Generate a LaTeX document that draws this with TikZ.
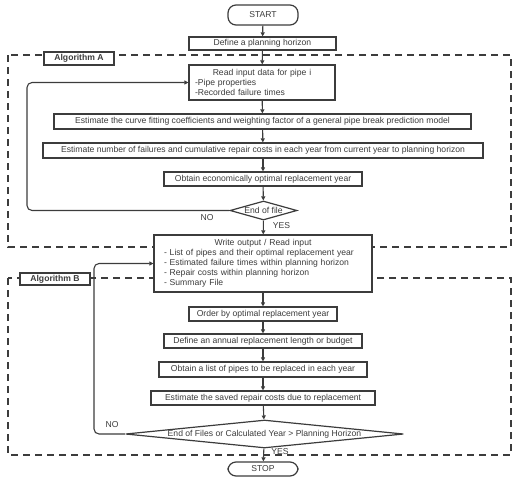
\documentclass[tikz,border=0pt]{standalone}
\usepackage{fontspec}
\setmainfont{Liberation Sans}
\usetikzlibrary{arrows.meta,shapes.geometric}
\definecolor{inkgray}{HTML}{3C3C3C}
\tikzset{
    procbox/.style={draw=inkgray, fill=white, line width=1.2pt, inner sep=0pt, text=inkgray},
    termbox/.style={procbox, rounded corners=8pt, minimum width=70, minimum height=14},
    decbox/.style={draw=inkgray, fill=white, line width=1.2pt, diamond, inner sep=0pt, text=inkgray},
    alglabel/.style={procbox, font=\fontsize{8.6}{10}\selectfont\bfseries},
    frame/.style={draw=inkgray, line width=1.1pt, dash pattern=on 7pt off 5pt},
    flow/.style={draw=inkgray, line width=1.1pt, -{Triangle[length=4pt,width=4pt]}},
    tag/.style={text=inkgray, inner sep=0pt}
}
\begin{document}
\begin{tikzpicture}[x=1pt, y=-1pt, font=\fontsize{8.6}{10}\selectfont]
    \useasboundingbox (0,0) rectangle (525,488);
    % dashed frames
    \draw[frame] (8,55) rectangle (511,247);
    \draw[frame] (8,278) rectangle (511,455);
    \node[alglabel, minimum width=70, minimum height=13] (algA) at (79,58.5) {Algorithm A};
    \node[alglabel, minimum width=70, minimum height=12] (algB) at (55,279) {Algorithm B};
    % main steps
    \node[termbox, minimum height=20] (start) at (263,15) {START};
    \node[procbox, minimum width=147, minimum height=13] (define) at (262.5,43.5) {Define a planning horizon};
    \node[procbox, minimum width=146, minimum height=35, text width=134, inner xsep=6pt, align=left] (readA) at (262,82.5)
        {\makebox[\linewidth]{Read input data for pipe i}\\-Pipe properties\\-Recorded failure times};
    \node[procbox, minimum width=417, minimum height=15] (fitA) at (262.5,121.5)
        {Estimate the curve fitting coefficients and weighting factor of a general pipe break prediction model};
    \node[procbox, minimum width=440, minimum height=15] (failA) at (263,150.5)
        {Estimate number of failures and cumulative repair costs in each year from current year to planning horizon};
    \node[procbox, minimum width=198, minimum height=14] (optA) at (263,179) {Obtain economically optimal replacement year};
    \node[decbox, aspect=3.5, minimum width=67, minimum height=19] (decA) at (263.5,210.5) {End of file};
    \node[procbox, minimum width=218, minimum height=57, text width=198, inner xsep=10pt, align=left] (writeIO) at (263,263.5)
        {\makebox[\linewidth]{Write output / Read input}\\- List of pipes and their optimal replacement year\\- Estimated failure times within planning horizon\\- Repair costs within planning horizon\\- Summary File};
    \node[procbox, minimum width=148, minimum height=14] (orderB) at (263,314) {Order by optimal replacement year};
    \node[procbox, minimum width=198, minimum height=14] (budgetB) at (263,341) {Define an annual replacement length or budget};
    \node[procbox, minimum width=208, minimum height=15] (listB) at (263,369.5) {Obtain a list of pipes to be replaced in each year};
    \node[procbox, minimum width=224, minimum height=14] (savedB) at (263,398) {Estimate the saved repair costs due to replacement};
    \node[decbox, aspect=10, minimum width=278, minimum height=28] (decB) at (264.5,434) {End of Files or Calculated Year > Planning Horizon};
    \node[termbox] (stop) at (263,469) {STOP};
    % arrows down the chain
    \foreach \a/\b in {start/define, define/readA, readA/fitA, fitA/failA, failA/optA, optA/decA,
        decA/writeIO, writeIO/orderB, orderB/budgetB, budgetB/listB, listB/savedB, savedB/decB, decB/stop}
        \draw[flow] (\a) -- (\b);
    % loops back
    \coordinate (loopA) at (27,0);
    \coordinate (loopB) at (94,0);
    \draw[flow, rounded corners=5pt] (decA.west) -- (decA.west -| loopA) -- (readA.west -| loopA) -- (readA.west);
    \draw[flow, rounded corners=5pt] (decB.west) -- (decB.west -| loopB) -- (writeIO.west -| loopB) -- (writeIO.west);
    \node[tag] (noA) at (207,218) {NO};
    \node[tag] (yesA) at (281.5,226) {YES};
    \node[tag] (noB) at (112,425) {NO};
    \node[tag] (yesB) at (280,452) {YES};
\end{tikzpicture}
\end{document}
